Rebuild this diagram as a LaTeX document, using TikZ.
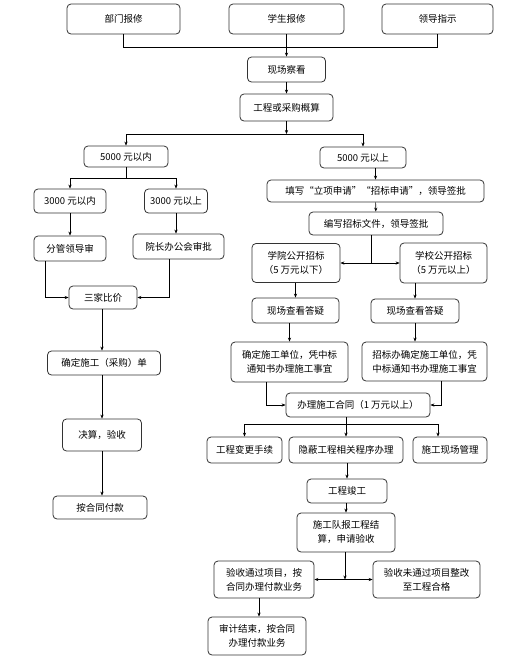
\documentclass[tikz,border=0pt]{standalone}
\usepackage{fontspec}
\setmainfont{Noto Sans CJK SC}
\usetikzlibrary{arrows.meta}

\begin{document}
\begin{tikzpicture}[
  x=1pt, y=-1pt,
  box/.style 2 args={draw=black!80, line width=0.8pt, rounded corners=4pt,
    minimum width=#1pt, minimum height=#2pt, inner sep=1pt, align=center,
    font=\fontsize{9.5}{14}\selectfont},
  arr/.style={-{Stealth[length=4pt,width=3.2pt]}, line width=0.6pt},
  ln/.style={line width=0.6pt},
]
  \useasboundingbox (0,0) rectangle (508,662);

  % Sources
  \node[box={113}{30}] (bm) at (123.5,19) {部门报修};
  \node[box={115}{30}] (xs) at (286.5,19) {学生报修};
  \node[box={111}{30}] (ld) at (437.5,19) {领导指示};

  \node[box={78}{25}] (kc) at (286.5,69.5) {现场察看};
  \node[box={93}{27}] (gs) at (286.5,107.5) {工程或采购概算};

  % Below 5000
  \node[box={84}{21}] (nei) at (126,156.5) {5000 元以内};
  \node[box={72}{24}] (a3n) at (70,201) {3000 元以内};
  \node[box={63}{24}] (a3w) at (176,201) {3000 元以上};
  \node[box={72}{25}] (fg) at (70,248.5) {分管领导审};
  \node[box={91}{25}] (yz) at (178.5,246.5) {院长办公会审批};
  \node[box={68}{23}] (sj) at (103,297.5) {三家比价};
  \node[box={113}{24}] (qd) at (104,363) {确定施工（采购）单};
  \node[box={79}{32}] (js) at (102,435) {决算，验收};
  \node[box={94}{23}] (fk) at (100,507.5) {按合同付款};

  % Above 5000
  \node[box={86}{21}] (wai) at (363,157.5) {5000 元以上};
  \node[box={217}{22}] (tx) at (375.5,191) {填写“立项申请”“招标申请”，领导签批};
  \node[box={134}{23}] (bx) at (376,223.5) {编写招标文件，领导签批};
  \node[box={88}{39}] (xy) at (296,263) {学院公开招标\\（5 万元以下）};
  \node[box={87}{40}] (xx) at (443.5,263) {学校公开招标\\（5 万元以上）};
  \node[box={87}{25}] (dy1) at (295.5,310.5) {现场查看答疑};
  \node[box={88}{24}] (dy2) at (415,311) {现场查看答疑};
  \node[box={117}{40}] (dw1) at (289.5,362) {确定施工单位，凭中标\\通知书办理施工事宜};
  \node[box={125}{39}] (dw2) at (424.5,361.5) {招标办确定施工单位，凭\\中标通知书办理施工事宜};
  \node[box={144}{24}] (ht) at (358,405) {办理施工合同（1 万元以上）};
  \node[box={75}{26}] (bg) at (244.5,450) {工程变更手续};
  \node[box={114}{26}] (yb) at (346,450) {隐蔽工程相关程序办理};
  \node[box={74}{26}] (xc) at (450,450) {施工现场管理};
  \node[box={80}{24}] (jg) at (347,491) {工程竣工};
  \node[box={98}{39}] (jsq) at (346,532.5) {施工队报工程结\\算，申请验收};
  \node[box={100}{37}] (tg) at (264,579.5) {验收通过项目，按\\合同办理付款业务};
  \node[box={107}{37}] (wtg) at (426.5,579.5) {验收未通过项目整改\\至工程合格};
  \node[box={98}{38}] (sjs) at (257,636) {审计结束，按合同\\办理付款业务};

  % Junctions
  \coordinate (j1) at (286.5,47);
  \coordinate (j2) at (286.5,134);
  \coordinate (j3) at (126,178);
  \coordinate (j4) at (371,263);
  \coordinate (j5) at (346,424);
  \coordinate (j6) at (345,579.5);

  % Top part
  \draw[ln] (bm.south) |- (j1);
  \draw[ln] (ld.south) |- (j1);
  \draw[arr] (xs.south) -- (kc.north);
  \draw[arr] (kc) -- (gs);
  \draw[arr] (gs.south) -- (j2);
  \draw[arr] (j2) -| (nei.north);
  \draw[arr] (j2) -| (wai.north);

  % Left branch
  \draw[ln] (nei.south) -- (j3);
  \draw[arr] (j3) -| (a3n.north);
  \draw[arr] (j3) -| (a3w.north);
  \draw[arr] (a3n) -- (fg);
  \draw[arr] (a3w.south) -- (a3w.south |- yz.north);
  \draw[arr] ([xshift=12]fg.south west) |- (sj.west);
  \draw[arr] ([xshift=-9]yz.south) |- (sj.east);
  \draw[arr] (sj.south -| 102,0) -- (qd.north -| 102,0);
  \draw[arr] (qd.south -| 102,0) -- (js.north -| 102,0);
  \draw[arr] (js.south -| 102,0) -- (fk.north -| 102,0);

  % Right branch
  \draw[arr] (wai.south -| tx.north) -- (tx.north);
  \draw[arr] (tx) -- (bx);
  \draw[ln] (bx.south -| j4) -- (j4);
  \draw[arr] (j4) -- (xy.east);
  \draw[arr] (j4) -- (xx.west);
  \draw[arr] (xy.south -| dy1.north) -- (dy1.north);
  \draw[arr] (xx.south -| dy2.north) -- (dy2.north);
  \draw[arr] (dy1.south -| dw1.north) -- (dw1.north);
  \draw[arr] (dy2.south) -- (dy2.south |- dw2.north);
  \draw[arr] ([xshift=36]dw1.south west) |- (ht.west);
  \draw[arr] ([xshift=80]dw2.south west) |- (ht.east);
  \draw[arr] (ht.south -| yb.north) -- (yb.north);
  \draw[arr] (j5) -| (bg.north);
  \draw[arr] (j5) -| ([xshift=-12]xc.north);
  \draw[arr] (yb.south -| jg.north) -- (jg.north);
  \draw[arr] (jg.south -| jsq.north) -- (jsq.north);
  \draw[arr] (jsq.south -| j6) -- (j6);
  \draw[arr] (j6) -- (tg.east);
  \draw[arr] (j6) -- (wtg.west);
  \draw[arr] (tg.south -| 259,0) -- (sjs.north -| 259,0);

\end{tikzpicture}
\end{document}
